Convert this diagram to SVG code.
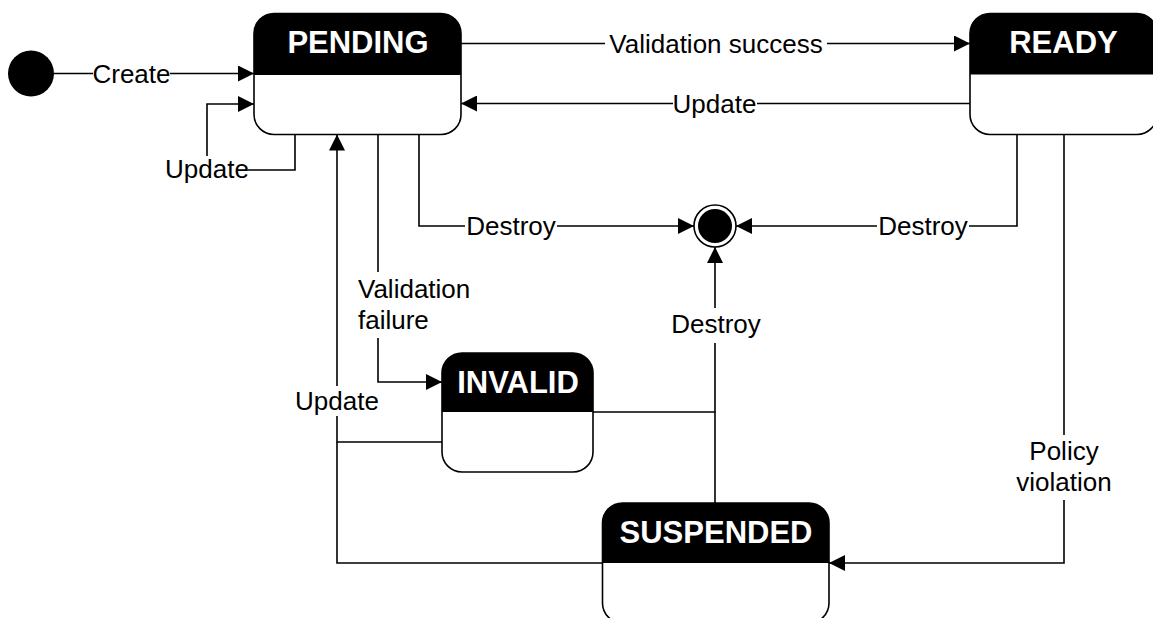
<svg xmlns="http://www.w3.org/2000/svg" width="1153" height="618" viewBox="0 0 1153 618">
<style>
.edge{fill:none;stroke:#000;stroke-width:1.6}
.box{fill:none;stroke:#000;stroke-width:1.6}
.body{fill:#fff}
.head{fill:#000}
.title{font-family:"Liberation Sans",Arial,sans-serif;font-size:31px;font-weight:bold;fill:#fff;text-anchor:middle}
.lbl{font-family:"Liberation Sans",Arial,sans-serif;font-size:26px;fill:#000;text-anchor:middle}
.bg{fill:#fff}
</style>
<defs>
<marker id="arr" markerUnits="userSpaceOnUse" markerWidth="16" markerHeight="16" refX="16" refY="8" orient="auto">
<path d="M0,0 L16,8 L0,16 Z" fill="#000"/>
</marker>
</defs>
<rect width="1153" height="618" fill="#fff"/>
<g id="connectors">
<path class="edge" d="M54,73.5 H254" marker-end="url(#arr)"/>
<path class="edge" d="M295,134.5 V170 H207 V104 H254" marker-end="url(#arr)"/>
<path class="edge" d="M461,43.5 H970" marker-end="url(#arr)"/>
<path class="edge" d="M970,103.5 H461" marker-end="url(#arr)"/>
<path class="edge" d="M419,134.5 V226 H694" marker-end="url(#arr)"/>
<path class="edge" d="M1017,134.5 V226 H736" marker-end="url(#arr)"/>
<path class="edge" d="M378,134.5 V382 H442" marker-end="url(#arr)"/>
<path class="edge" d="M593,412 H715 V247" marker-end="url(#arr)"/>
<path class="edge" d="M715,503 V412"/>
<path class="edge" d="M442,442 H337 V134.5" marker-end="url(#arr)"/>
<path class="edge" d="M602.5,563 H337 V442"/>
<path class="edge" d="M1064,134.5 V563 H829" marker-end="url(#arr)"/>
<rect class="bg" x="93" y="60" width="77" height="28"/>
<text class="lbl" x="131.5" y="82.5">Create</text>
<rect class="bg" x="166" y="156" width="82" height="28"/>
<text class="lbl" x="207" y="178">Update</text>
<rect class="bg" x="605" y="29" width="222" height="28"/>
<text class="lbl" x="716" y="52.5">Validation success</text>
<rect class="bg" x="673" y="89" width="84" height="28"/>
<text class="lbl" x="714.5" y="112.5">Update</text>
<rect class="bg" x="465" y="212" width="92" height="28"/>
<text class="lbl" x="511" y="235">Destroy</text>
<rect class="bg" x="877" y="212" width="92" height="28"/>
<text class="lbl" x="923" y="235">Destroy</text>
<rect class="bg" x="356" y="272" width="118" height="66"/>
<text class="lbl" x="358" y="298" style="text-anchor:start">Validation</text>
<text class="lbl" x="358" y="329" style="text-anchor:start">failure</text>
<rect class="bg" x="670" y="308" width="92" height="35"/>
<text class="lbl" x="716" y="333">Destroy</text>
<rect class="bg" x="294" y="386" width="86" height="30"/>
<text class="lbl" x="337" y="410">Update</text>
<rect class="bg" x="1028" y="435" width="72" height="65"/>
<text class="lbl" x="1064" y="460">Policy</text>
<text class="lbl" x="1064" y="491">violation</text>
</g>
<g id="initial">
<circle cx="31" cy="73.5" r="23" fill="#000"/>
</g>
<g id="final">
<circle cx="715" cy="226" r="21" fill="#fff" stroke="#000" stroke-width="1.6"/>
<circle cx="715" cy="226" r="17" fill="#000"/>
</g>
<g id="pending">
<rect class="body" x="254" y="13.5" width="207" height="121" rx="20"/>
<path class="head" d="M254,75 V33.5 A20,20 0 0 1 274,13.5 H441 A20,20 0 0 1 461,33.5 V75 Z"/>
<rect class="box" x="254" y="13.5" width="207" height="121" rx="20"/>
<text class="title" x="358" y="53">PENDING</text>
</g>
<g id="ready">
<rect class="body" x="970" y="13.5" width="187" height="121" rx="20"/>
<path class="head" d="M970,74.5 V33.5 A20,20 0 0 1 990,13.5 H1137 A20,20 0 0 1 1157,33.5 V74.5 Z"/>
<rect class="box" x="970" y="13.5" width="187" height="121" rx="20"/>
<text class="title" x="1063.5" y="53">READY</text>
</g>
<g id="invalid">
<rect class="body" x="442" y="353" width="151" height="119" rx="20"/>
<path class="head" d="M442,412 V373 A20,20 0 0 1 462,353 H573 A20,20 0 0 1 593,373 V412 Z"/>
<rect class="box" x="442" y="353" width="151" height="119" rx="20"/>
<text class="title" x="518" y="393">INVALID</text>
</g>
<g id="suspended">
<rect class="body" x="602.5" y="503" width="226.5" height="120" rx="20"/>
<path class="head" d="M602.5,563 V523 A20,20 0 0 1 622.5,503 H809 A20,20 0 0 1 829,523 V563 Z"/>
<rect class="box" x="602.5" y="503" width="226.5" height="120" rx="20"/>
<text class="title" x="716" y="543">SUSPENDED</text>
</g>
</svg>
